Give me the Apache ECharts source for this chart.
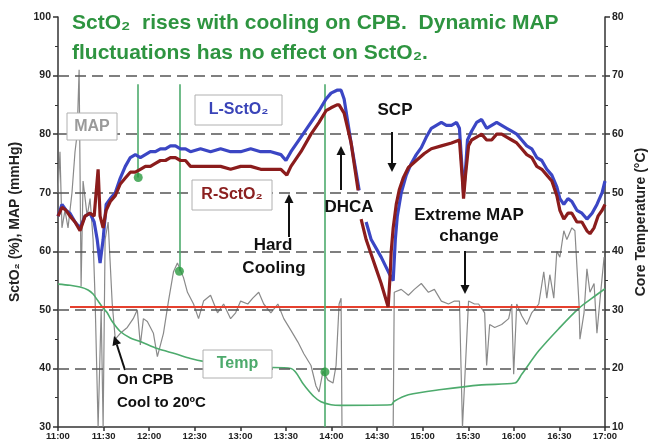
<!DOCTYPE html>
<html><head><meta charset="utf-8">
<script src="https://cdn.jsdelivr.net/npm/echarts/dist/echarts.min.js"></script>
<style>html,body{margin:0;padding:0;background:#fff}#c{width:652px;height:444px}</style>
</head><body><div id="c"></div>
<script>
// ---- data (time = minutes after 11:00) ----
const xTickLabels = ['11:00','11:30','12:00','12:30','13:00','13:30','14:00','14:30','15:00','15:30','16:00','16:30','17:00'];
const gridValues = [40,50,60,70,80,90];

const lTime  = [0,2.6,5.3,7.9,11.2,14.5,17.8,21.1,23.8,25.8,27.7,29.7,31.7,34.4,37.7,41.0,44.3,47.6,50.9,54.2,57.5,60.8,64.1,67.4,70.7,74.0,77.3,80.6,83.9,87.2,93.8,100.4,107.0,113.6,120.2,126.8,133.4,140.1,146.7,150.0,153.3,159.9,166.5,171.8,176.4,179.7,183.6,186.3,188.3,192.9,196.2,198.2,199.5,202.8,206.1,212.7,219.3,220.6,222.0,223.3,225.9,229.2,232.5,235.8,239.1,242.4,245.7,249.0,252.3,255.6,259.0,262.3,264.2,266.2,266.9,268.2,269.5,272.2,275.5,278.8,282.1,285.4,288.7,292.0,295.3,298.6,301.9,305.2,308.5,311.8,315.1,318.4,321.7,325.0,328.3,330.3,332.9,335.6,338.2,341.5,344.8,348.1,351.5,354.7,358.1,360];
const lValue = [66,68,67,66.5,65,64,66,66.5,65,62,58,62,68,69,70,72.5,74.5,76,76.5,76,76.5,77,77,77.5,77.5,78,78,77.5,77.5,77,77.5,77,77.5,77,77,77.5,77,77,76.5,75.5,77,79.5,82,84,86,87,87.5,87.5,86,78.5,73.5,70.4,null,65,62,59,55.5,55,62,66,70,73,75,76.5,77.7,79.5,81,81.5,82,81.5,81.5,82,81,73,70,74,79,80.5,82,82.5,81,81.5,82,81.5,81,80.5,80,79,78,77.5,76,75.5,74,73,71,69,68,69,68.5,67,66.5,65.5,66.5,68,70,72];

const rTime  = [0,2.6,5.3,7.9,11.2,14.5,17.8,21.1,23.8,25.1,26.4,27.7,29.7,31.7,34.4,37.7,41.0,44.3,47.6,50.9,54.2,57.5,60.8,64.1,67.4,70.7,74.0,77.3,80.6,83.9,87.2,93.8,100.4,107.0,113.6,120.2,126.8,133.4,140.1,146.7,150.6,153.3,159.9,166.5,171.8,176.4,179.7,183.6,185.0,188.3,192.9,197.5,198.8,199.5,202.8,206.1,209.4,212.7,217.3,218.6,219.3,220.6,222.6,224.6,227.2,230.6,235.8,241.1,245.7,252.3,259.0,264.2,266.2,266.9,268.2,270.2,272.2,275.5,278.8,282.1,285.4,288.7,292.0,295.3,298.6,301.9,305.2,308.5,311.8,315.1,318.4,321.7,325.0,328.3,330.3,332.9,335.6,338.2,341.5,344.8,348.1,350.1,352.8,355.4,358.1,360];
const rValue = [66,67.5,67,66,65,63.5,66,66.5,66,70,74,66,64,67,68.5,69.5,71.5,72.5,73.5,73.5,74,74.5,74.5,75,75.5,75.5,76,76,75.5,75.5,74.5,74.5,74.5,74.5,74,74.5,74.5,74,74,74,73,74.5,77,80,82,84,84.5,85,85,83.6,78.5,70.4,null,65.5,62,59.5,57,54.5,50.5,56,60,64,68,70.5,72.5,74.3,75.5,76.7,77.5,78,78.5,79,72,69,73,78,79,79.5,80,79,79,80,80,79.5,79,78.5,77.5,76.5,76,74.5,74,73,72,69.5,67,65.5,66.5,66.5,65,65,63.5,63,64,66,67,68];

const mapTime  = [0,1.3,2.6,4.6,6.6,9.2,11.2,12.6,13.9,15.2,16.5,19.2,21.1,23.1,24.4,26.4,28.4,29.7,31.0,33.0,35.7,37.7,41.0,45.6,49.5,52.2,54.2,56.2,58.8,62.8,65.4,69.4,72.7,76.0,78.6,82.6,85.2,89.2,92.5,95.8,100.4,105.0,109.0,113.6,116.9,120.2,124.9,128.2,132.1,135.4,140.1,144.7,148.6,153.3,157.9,161.8,166.5,169.8,171.8,174.4,177.7,181.0,183.0,185.0,186.3,186.9,200,220.6,221.3,225.9,230.6,234.5,239.1,243.8,247.7,252.3,257.0,260.9,264.2,266.2,267.5,270.2,274.1,276.8,280.8,282.1,284.1,287.4,292.0,296.6,298.6,299.9,301.9,305.2,308.5,311.8,316.4,319.7,321.7,323.7,326.3,328.3,330.3,332.9,334.9,338.2,340.2,342.9,343.5,346.2,348.1,350.1,352.8,354.7,356.8,359.4];
const mapValue = [70,77,64,67,64,70,77,80,91,54,72,66,69,62,52,30,50,30,62,65,51,45,46,47,48.5,50,44,48.5,48,46,42,46,51.5,56.5,58,55.5,53,51,48.5,51.5,52.5,49.5,51,48.5,49.5,51.5,51,52,53,51,49.5,51,48.5,46.5,44.5,42.5,40.5,37,36,39.5,38,37.5,40.5,51,52,30,null,30,53,53.5,52.5,53.5,54.5,53,53.5,51.5,51,51.5,51.5,30,30,51.5,51,51,49.5,40.5,47.5,47,47.5,48.5,51,39,51,49,47.5,49.5,51,56.5,52,56,52,60,59,63.5,62,64,63.5,51,45,49.5,57,53,54.5,46,52,59];

const tempTime  = [0,7.9,14.5,19.8,23.1,26.4,29.7,32.4,35.7,41.0,47.6,54.2,65.4,77.3,87.2,95.8,113.6,133.4,153.3,161.8,168.4,173.1,179.7,186.3,219.3,221.3,230.6,252.3,278.8,300.6,305.2,316.4,329.6,342.9,351.5,360];
const tempValue = [34.4,34.2,33.9,33.4,32.7,31.5,30.3,29.5,28,26.3,25.2,24.6,23.4,22.5,21.7,21.2,20.6,20.2,20,17.2,15.2,14.3,13.8,13.7,13.8,14.4,15.5,16.4,17.2,17.5,19,23,26.8,30.3,32,33.6];

const thresholdTime = [7.9, 343.5];
const thresholdValue = [50.5, 50.5];

const eventTime = [52.8, 79.9, 175.7];
const eventDot  = [72.6, 56.6, 39.4];
const eventTop  = [88.5, 88.5, 88.5];
const eventBottom = [72.6, 56.6, 30];

// ---- helpers ----
const zip = (t, v) => t.map((x, i) => [x, v[i] === null ? '-' : v[i]]);
const F = '"Liberation Sans", Arial, sans-serif';
const FN = '"Liberation Sans Narrow", "Liberation Sans", Arial, sans-serif';

function labelBox(cx, cy, w, h, text, color) {
  return [
    {type:'rect', shape:{x:cx-w/2, y:cy-h/2, width:w, height:h}, style:{fill:'#fff', stroke:'#b0b0b0', lineWidth:1}, z:50},
    {type:'text', x:cx, y:cy, style:{text:text, fill:color, font:'bold 16px ' + F, textAlign:'center', textVerticalAlign:'middle'}, z:51}
  ];
}
function txt(x, y, text, size, align) {
  return {type:'text', x:x, y:y, style:{text:text, fill:'#111', font:'bold ' + size + 'px ' + F, textAlign:align || 'center', textVerticalAlign:'middle'}, z:52};
}
function arrow(x1, y1, x2, y2) {
  const a = Math.atan2(y2 - y1, x2 - x1), L = 9, W = 4.5;
  const bx = x2 - L * Math.cos(a), by = y2 - L * Math.sin(a);
  const px = -Math.sin(a) * W, py = Math.cos(a) * W;
  return [
    {type:'line', shape:{x1:x1, y1:y1, x2:bx, y2:by}, style:{stroke:'#111', lineWidth:2}, z:52},
    {type:'polygon', shape:{points:[[x2,y2],[bx+px,by+py],[bx-px,by-py]]}, style:{fill:'#111'}, z:52}
  ];
}

const graphics = [
  {type:'text', x:72, y:23, style:{text:'SctO\u2082  rises with cooling on CPB.  Dynamic MAP', fill:'#2e9440', font:'bold 21px ' + F, textVerticalAlign:'middle'}, z:60},
  {type:'text', x:72, y:53, style:{text:'fluctuations has no effect on SctO\u2082.', fill:'#2e9440', font:'bold 21px ' + F, textVerticalAlign:'middle'}, z:60},
  ...labelBox(92, 126.5, 50, 27, 'MAP', '#9a9a9a'),
  ...labelBox(238.5, 110, 87, 30, 'L-SctO\u2082', '#3a44b8'),
  ...labelBox(232, 195, 80, 30, 'R-SctO\u2082', '#8b2020'),
  ...labelBox(237.5, 364, 69, 28, 'Temp', '#4daa6c'),
  txt(395, 110, 'SCP', 17),
  txt(349, 207, 'DHCA', 17),
  txt(273, 245, 'Hard', 17),
  txt(274, 268, 'Cooling', 17),
  txt(469, 215, 'Extreme MAP', 17),
  txt(469, 236, 'change', 17),
  txt(117, 380, 'On CPB', 15, 'left'),
  txt(117, 403, 'Cool to 20\u00baC', 15, 'left'),
  ...arrow(289, 237, 289, 194),
  ...arrow(341, 190, 341, 146),
  ...arrow(392, 132, 392, 172),
  ...arrow(465, 251, 465, 294),
  ...arrow(125, 370, 114, 336)
];

const axisLineStyle = {color:'#333', width:1.5};
const chart = echarts.init(document.getElementById('c'), null, {renderer:'canvas'});
chart.setOption({
  animation:false,
  backgroundColor:'#fff',
  grid:{left:58, right:47, top:17, bottom:17, containLabel:false, outerBoundsMode:'none'},
  xAxis:{type:'value', min:0, max:360, interval:30,
    axisLine:{show:true, lineStyle:axisLineStyle},
    axisTick:{show:true, length:4, lineStyle:axisLineStyle},
    splitLine:{show:false},
    axisLabel:{formatter:v => xTickLabels[Math.round(v/30)], fontSize:9.5, fontWeight:'bold', fontFamily:FN, color:'#222', margin:4}},
  yAxis:[
    {type:'value', min:30, max:100, interval:10, position:'left',
      name:'SctO\u2082 (%), MAP (mmHg)', nameLocation:'middle', nameGap:32, nameRotate:90,
      nameTextStyle:{fontSize:14, fontWeight:'bold', color:'#222', fontFamily:F},
      axisLine:{show:true, lineStyle:axisLineStyle},
      axisTick:{show:true, length:5, lineStyle:axisLineStyle},
      minorTick:{show:true, splitNumber:2, length:3, lineStyle:{color:'#333'}},
      splitLine:{show:false},
      axisLabel:{fontSize:10.5, fontWeight:'bold', fontFamily:FN, color:'#222', margin:7}},
    {type:'value', min:10, max:80, interval:10, position:'right',
      name:'Core Temperature (\u00b0C)', nameLocation:'middle', nameGap:28, nameRotate:90,
      nameTextStyle:{fontSize:14, fontWeight:'bold', color:'#222', fontFamily:F},
      axisLine:{show:true, lineStyle:axisLineStyle},
      axisTick:{show:true, length:5, lineStyle:axisLineStyle},
      minorTick:{show:true, splitNumber:2, length:3, lineStyle:{color:'#333'}},
      splitLine:{show:false},
      axisLabel:{fontSize:10.5, fontWeight:'bold', fontFamily:FN, color:'#222', margin:7}}
  ],
  series:[
    {type:'line', name:'grid', data:[], silent:true,
      markLine:{silent:true, symbol:'none', label:{show:false},
        lineStyle:{color:'#555', type:[11,6], width:1.5},
        data:gridValues.map(v => ({yAxis:v}))}, z:1},
    {type:'line', name:'MAP', data:zip(mapTime, mapValue), showSymbol:false, connectNulls:false,
      lineStyle:{color:'#8a8a8a', width:1.2}, itemStyle:{color:'#8a8a8a'}, z:2},
    {type:'line', name:'Temp', yAxisIndex:1, data:zip(tempTime, tempValue), showSymbol:false, smooth:0.3,
      lineStyle:{color:'#4dab6d', width:1.6}, itemStyle:{color:'#4dab6d'}, z:3},
    {type:'line', name:'threshold', data:zip(thresholdTime, thresholdValue), showSymbol:false,
      lineStyle:{color:'#e5402e', width:2}, itemStyle:{color:'#e5402e'}, z:4},
    {type:'scatter', name:'events', data:zip(eventTime, eventDot), symbolSize:9,
      itemStyle:{color:'#2a9a40'}, z:8,
      markLine:{silent:true, symbol:'none', label:{show:false},
        lineStyle:{color:'#4dab6d', type:'solid', width:1.6},
        data:eventTime.map((t, i) => [{coord:[t, eventTop[i]]}, {coord:[t, eventBottom[i]]}])}},
    {type:'line', name:'L-SctO2', data:zip(lTime, lValue), showSymbol:false, connectNulls:false,
      lineStyle:{color:'#3b46c4', width:3.2}, itemStyle:{color:'#3b46c4'}, z:6},
    {type:'line', name:'R-SctO2', data:zip(rTime, rValue), showSymbol:false, connectNulls:false,
      lineStyle:{color:'#8b1c1c', width:3.2}, itemStyle:{color:'#8b1c1c'}, z:7}
  ],
  graphic:graphics
});
</script></body></html>
